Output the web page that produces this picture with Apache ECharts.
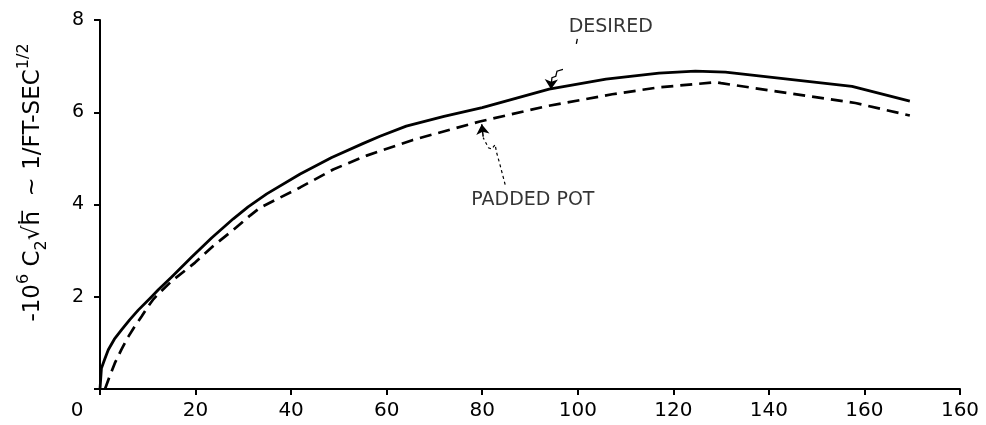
<!DOCTYPE html>
<html>
<head>
<meta charset="utf-8">
<title>Damping derivative</title>
<script src="https://cdn.jsdelivr.net/npm/echarts@6/dist/echarts.min.js"></script>
<style>
  html, body { margin: 0; padding: 0; background: #ffffff; }
  #chart { width: 986px; height: 425px; }
</style>
</head>
<body>
<div id="chart"></div>
<script>
// Axis tick labels
const xTickValues = [0, 20, 40, 60, 80, 100, 120, 140, 160, 180];
const xTickLabels = ['0', '20', '40', '60', '80', '100', '120', '140', '160', '160'];
const yTickValues = [0, 2, 4, 6, 8];
const yTickLabels = ['', '2', '4', '6', '8'];

// "Desired" curve (solid)
const desiredX = [0, 0.3, 1.0, 1.74, 3.0, 4.5, 6.2, 8.0, 10.8, 12.2, 15.0, 19.2, 23.4, 27.9, 31.0, 34.9, 41.9, 48.5, 55.0, 58.6, 64.1, 72.0, 80.0, 87.0, 94.0, 105.9, 117.0, 124.6, 130.9, 157.4, 169.5];
const desiredY = [0, 0.45, 0.65, 0.85, 1.08, 1.28, 1.50, 1.71, 2.00, 2.15, 2.43, 2.86, 3.28, 3.69, 3.95, 4.23, 4.66, 5.02, 5.32, 5.48, 5.70, 5.91, 6.10, 6.30, 6.50, 6.72, 6.85, 6.89, 6.87, 6.56, 6.24];

// "Padded pot" curve (dashed)
const paddedX = [1.05, 2.0, 3.1, 4.5, 5.9, 7.3, 8.7, 10.0, 11.2, 12.3, 15.0, 19.9, 23.7, 27.9, 31.4, 33.5, 41.9, 48.8, 55.8, 65.5, 79.5, 93.4, 107.2, 117.0, 128.8, 130.0, 158.1, 169.5];
const paddedY = [0, 0.27, 0.56, 0.86, 1.13, 1.36, 1.57, 1.78, 1.95, 2.07, 2.34, 2.74, 3.10, 3.45, 3.76, 3.93, 4.37, 4.76, 5.06, 5.40, 5.80, 6.13, 6.39, 6.54, 6.65, 6.63, 6.20, 5.93];

// Curve callouts
const calloutTexts = ['DESIRED', 'PADDED POT'];
const calloutAt = [[106.9, 7.85], [90.6, 4.09]];

const pair = (xs, ys) => xs.map((x, i) => [x, ys[i]]);
const FONT = 'DejaVu Sans';
const INK = '#000000';

const chart = echarts.init(document.getElementById('chart'), null, { renderer: 'canvas' });

chart.setOption({
  backgroundColor: '#ffffff',
  animation: false,
  grid: { left: 100, right: 26, top: 20, bottom: 36, containLabel: false },
  xAxis: {
    type: 'value', min: 0, max: 180, interval: 20,
    axisLine: { show: true, onZero: false, lineStyle: { color: INK, width: 2 } },
    axisTick: { show: true, inside: false, length: 6, lineStyle: { color: INK, width: 2 } },
    splitLine: { show: false },
    axisLabel: {
      margin: 12, color: INK, fontFamily: FONT, fontSize: 20,
      formatter: v => {
        const i = xTickValues.indexOf(v);
        if (i < 0) return '';
        return i === 0 ? '{z|' + xTickLabels[0] + '}' : xTickLabels[i];
      },
      rich: { z: { fontFamily: FONT, fontSize: 20, color: INK, padding: [0, 46, 0, 0] } }
    }
  },
  yAxis: {
    type: 'value', min: 0, max: 8, interval: 2,
    axisLine: { show: true, onZero: false, lineStyle: { color: INK, width: 2 } },
    axisTick: { show: true, inside: false, length: 6, lineStyle: { color: INK, width: 2 } },
    splitLine: { show: false },
    axisLabel: {
      margin: 16, color: INK, fontFamily: FONT, fontSize: 19,
      formatter: v => {
        const i = yTickValues.indexOf(v);
        return i < 0 ? '' : yTickLabels[i];
      }
    },
    name: '{t|-10}{sup|6}{t| C}{sub|2}{t|√ḣ̅  ~ 1/FT-SEC}{sup|1/2}',
    nameLocation: 'middle',
    nameRotate: 90,
    nameGap: 50,
    nameTextStyle: {
      padding: [0, 0, 0, 44],
      rich: {
        t: { fontFamily: FONT, fontSize: 23, color: INK, lineHeight: 34, verticalAlign: 'middle' },
        sup: { fontFamily: FONT, fontSize: 16, color: INK, lineHeight: 34, verticalAlign: 'top' },
        sub: { fontFamily: FONT, fontSize: 16, color: INK, lineHeight: 34, verticalAlign: 'bottom' }
      }
    }
  },
  series: [
    {
      name: 'DESIRED', type: 'line', data: pair(desiredX, desiredY),
      symbol: 'none', smooth: false, clip: false,
      lineStyle: { color: INK, width: 2.8, join: 'round' }
    },
    {
      name: 'PADDED POT', type: 'line', data: pair(paddedX, paddedY),
      symbol: 'none', smooth: false, clip: false,
      lineStyle: { color: INK, width: 2.7, type: [12, 7] }
    },
    {
      // callout texts
      type: 'scatter', symbolSize: 0, silent: true,
      data: calloutAt.map((p, i) => ({ value: p, name: calloutTexts[i] })),
      label: {
        show: true, position: 'inside', formatter: p => p.name,
        color: INK, fontFamily: FONT, fontSize: 19
      }
    },
    {
      // squiggly leader strokes
      type: 'lines', coordinateSystem: 'cartesian2d', polyline: true, silent: true,
      lineStyle: { color: INK, width: 1.3, opacity: 1 },
      data: [
        { coords: [[96.9, 6.93], [95.65, 6.89], [95.4, 6.78], [94.6, 6.75], [94.45, 6.62]] },
        { coords: [[99.9, 7.59], [99.7, 7.48]] },
        { coords: [[84.8, 4.43], [83.7, 4.87], [83.0, 5.13], [82.7, 5.30], [82.0, 5.20], [81.3, 5.23], [80.2, 5.45]],
          lineStyle: { type: [3, 3], width: 1.2 } }
      ]
    },
    {
      // arrow heads on the leaders
      type: 'lines', coordinateSystem: 'cartesian2d', silent: true,
      symbol: ['none', 'arrow'], symbolSize: 10,
      lineStyle: { color: INK, width: 1.5, opacity: 1 },
      data: [
        { coords: [[94.45, 6.66], [94.4, 6.50]] },
        { coords: [[80.2, 5.47], [79.9, 5.74]] }
      ]
    }
  ]
});
</script>
</body>
</html>
